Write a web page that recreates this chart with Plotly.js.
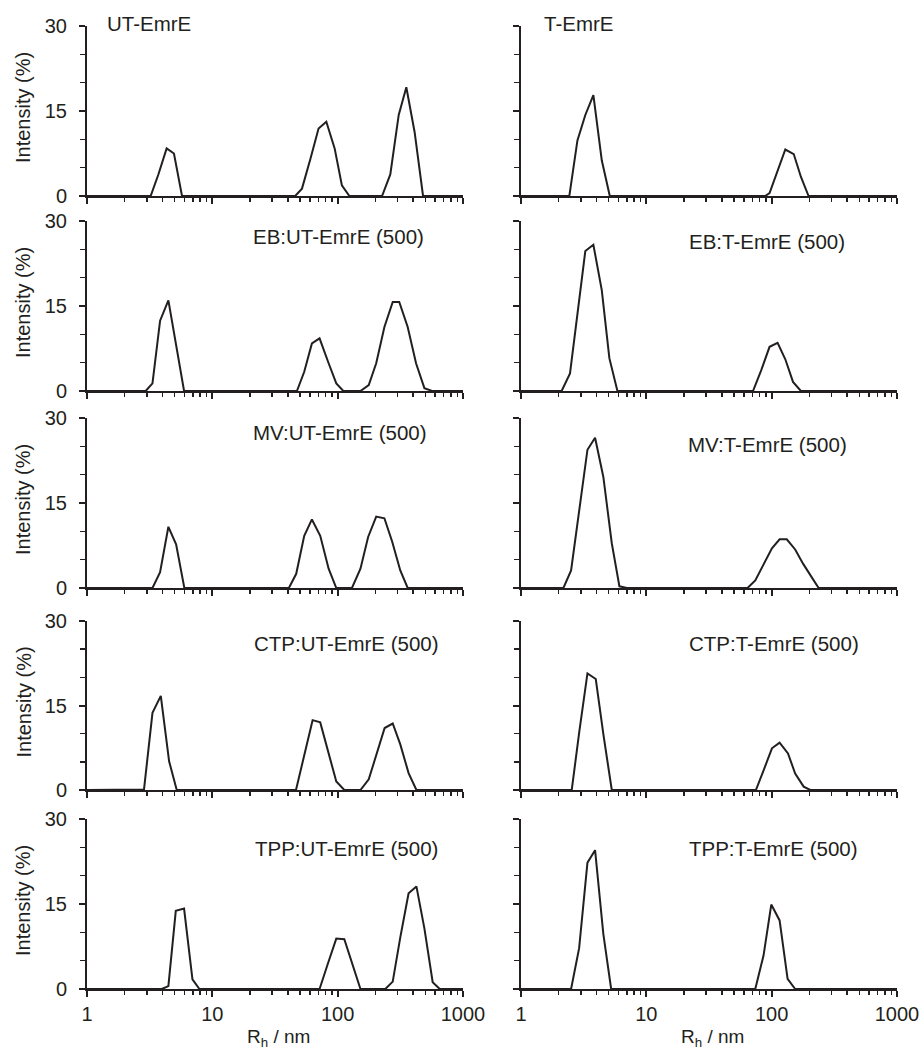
<!DOCTYPE html>
<html>
<head>
<meta charset="utf-8">
<script src="https://cdn.plot.ly/plotly-3.0.1.min.js"></script>
<style>html,body{margin:0;padding:0;background:#fff;}#chart{width:922px;height:1053px;}</style>
</head>
<body>
<div id="chart"></div>
<script>
// ---- Data (R_h in nm, intensity in %) ----
var panelTitles = ["UT-EmrE", "T-EmrE", "EB:UT-EmrE (500)", "EB:T-EmrE (500)", "MV:UT-EmrE (500)", "MV:T-EmrE (500)", "CTP:UT-EmrE (500)", "CTP:T-EmrE (500)", "TPP:UT-EmrE (500)", "TPP:T-EmrE (500)"];

var ut_x = [1, 3.22, 3.71, 4.32, 4.94, 5.73, 45.8, 51.9, 60.5, 70.4, 81.2, 94.6, 108, 124, 226, 263, 307, 353, 411, 480, 1000];
var ut_y = [0, 0, 3.8, 8.4, 7.5, 0, 0, 1.3, 6.5, 11.9, 13.1, 8.4, 1.9, 0, 0, 3.8, 14.3, 19.2, 11.3, 0, 0];

var t_x = [1, 2.43, 2.82, 3.26, 3.78, 4.41, 5.11, 88.9, 96.2, 111, 128.5, 150, 171, 197, 1000];
var t_y = [0, 0, 9.8, 14.3, 17.8, 6.3, 0, 0, 0.5, 4.4, 8.2, 7.4, 3.4, 0, 0];

var eb_ut_x = [1, 2.94, 3.33, 3.83, 4.46, 5.14, 5.95, 47.3, 54.1, 62.3, 71.7, 84.7, 97.5, 111, 152, 177, 203, 236, 275, 310, 362, 422, 492, 566, 1000];
var eb_ut_y = [0, 0, 1.35, 12.4, 16.0, 8.4, 0, 0, 3.4, 8.4, 9.3, 4.9, 1.35, 0, 0, 1.05, 4.9, 11.3, 15.7, 15.7, 11.3, 4.9, 0.5, 0, 0];

var eb_t_x = [1, 2.11, 2.46, 2.84, 3.26, 3.78, 4.41, 5.07, 5.88, 71, 82.6, 96.2, 111.5, 128.5, 148, 171, 1000];
var eb_t_y = [0, 0, 3.1, 13.9, 24.7, 25.8, 17.8, 5.8, 0, 0, 3.7, 7.8, 8.5, 5.6, 1.6, 0, 0];

var mv_ut_x = [1, 3.33, 3.83, 4.46, 5.14, 5.98, 40.8, 46.7, 54.1, 62.3, 72.6, 84.7, 97.5, 130, 152, 175, 203, 236, 272, 316, 362, 1000];
var mv_ut_y = [0, 0, 2.8, 10.8, 7.7, 0, 0, 2.5, 9.2, 12.1, 9.2, 3.4, 0, 0, 3.4, 9.0, 12.6, 12.3, 8.2, 3.1, 0, 0];

var mv_t_x = [1, 2.18, 2.51, 2.91, 3.39, 3.90, 4.54, 5.30, 6.10, 7.0, 64.2, 74, 86.1, 100.5, 115.7, 132, 154, 178, 206, 237, 1000];
var mv_t_y = [0, 0, 3.1, 13.8, 24.4, 26.5, 19.6, 7.9, 0.3, 0, 0, 1.35, 4.2, 7.0, 8.6, 8.6, 6.8, 4.3, 2.1, 0, 0];

var ctp_ut_x = [1, 2.85, 3.33, 3.88, 4.52, 5.20, 46.5, 54.1, 63.1, 72.6, 84.7, 97.5, 113, 152, 177, 206, 237, 275, 316, 368, 425, 1000];
var ctp_ut_y = [0, 0.1, 13.7, 16.7, 5.1, 0, 0, 6.3, 12.4, 12.0, 6.6, 1.5, 0, 0, 1.9, 6.6, 11.0, 11.8, 8.1, 3.0, 0, 0];

var ctp_t_x = [1, 2.54, 2.92, 3.39, 3.95, 4.54, 5.30, 74.9, 87.3, 100.5, 115.7, 135, 154, 180, 203, 1000];
var ctp_t_y = [0, 0, 10.4, 20.7, 19.7, 9.9, 0, 0, 3.8, 7.4, 8.4, 6.5, 2.9, 0.6, 0, 0];

var tpp_ut_x = [1, 3.95, 4.46, 5.11, 5.95, 6.94, 7.89, 71.7, 83.6, 97.5, 113, 131, 152, 240, 275, 316, 368, 425, 492, 573, 652, 1000];
var tpp_ut_y = [0, 0, 0.5, 13.8, 14.2, 1.7, 0, 0, 4.5, 8.9, 8.8, 4.4, 0, 0, 1.3, 9.1, 16.9, 18.1, 10.7, 1.2, 0, 0];

var tpp_t_x = [1, 2.51, 2.91, 3.39, 3.90, 4.54, 5.24, 74, 86.1, 99.3, 115.7, 134, 154, 1000];
var tpp_t_y = [0, 0, 7.2, 22.3, 24.5, 9.7, 0, 0, 5.9, 14.9, 12.1, 1.8, 0, 0];

var xMajorVals = [1, 10, 100, 1000];
var xMajorText = ["1", "10", "100", "1000"];
var xMinorVals = [2,3,4,5,6,7,8,9,20,30,40,50,60,70,80,90,200,300,400,500,600,700,800,900];
var yMajorVals = [0, 15, 30];
var yMajorText = ["0", "15", "30"];
var yMinorVals = [5, 10, 20, 25];

var seriesX = [ut_x, t_x, eb_ut_x, eb_t_x, mv_ut_x, mv_t_x, ctp_ut_x, ctp_t_x, tpp_ut_x, tpp_t_x];
var seriesY = [ut_y, t_y, eb_ut_y, eb_t_y, mv_ut_y, mv_t_y, ctp_ut_y, ctp_t_y, tpp_ut_y, tpp_t_y];

// ---- Layout geometry (pixels) ----
var W = 922, H = 1053;
function fx(p) { return p / W; }
function fy(p) { return 1 - p / H; }
var colX = [[87, 463], [521, 897]];
var rowY = [[26, 196], [221, 391], [418, 588], [621, 790], [819, 989]];
var labelPos = [[105, 24], [542, 24], [251, 237], [687, 241], [251, 432], [686, 445], [252, 643], [687, 643], [253, 848], [687, 848]];

var ink = "#231f20";
var FONT = "Arial, 'Liberation Sans', Helvetica, sans-serif";

var data = [];
var layout = {
  width: W, height: H, autosize: false,
  margin: {l: 0, r: 0, t: 0, b: 0},
  paper_bgcolor: "#fff", plot_bgcolor: "rgba(0,0,0,0)",
  showlegend: false,
  font: {family: FONT, size: 20, color: ink},
  annotations: []
};

for (var i = 0; i < 10; i++) {
  var r = Math.floor(i / 2), c = i % 2, n = i + 1;
  var xa = "xaxis" + (n === 1 ? "" : n), ya = "yaxis" + (n === 1 ? "" : n);
  var xid = "x" + (n === 1 ? "" : n), yid = "y" + (n === 1 ? "" : n);
  data.push({
    x: seriesX[i], y: seriesY[i], xaxis: xid, yaxis: yid,
    type: "scatter", mode: "lines",
    line: {color: ink, width: 2}, hoverinfo: "skip", cliponaxis: false
  });
  var bottom = (r === 4), left = (c === 0);
  var xaxisObj = {
    type: "log", range: [0, 3], domain: [fx(colX[c][0]), fx(colX[c][1])], anchor: yid,
    showline: true, linecolor: ink, linewidth: 2,
    showgrid: false, zeroline: false,
    ticks: "outside", ticklen: 6, tickwidth: 2, tickcolor: ink,
    tickmode: "array", tickvals: xMajorVals,
    showticklabels: bottom,
    tickfont: {family: FONT, size: 20, color: ink},
    minor: {tickmode: "array", tickvals: xMinorVals, ticks: "outside", ticklen: 4, tickwidth: 1.5, tickcolor: ink, showgrid: false},
    fixedrange: true
  };
  if (bottom) xaxisObj.ticktext = xMajorText;
  layout[xa] = xaxisObj;
  var yaxisObj = {
    range: [0, 30], domain: [fy(rowY[r][1]), fy(rowY[r][0])], anchor: xid,
    showline: true, linecolor: ink, linewidth: 2,
    showgrid: false, zeroline: false,
    ticks: "outside", ticklen: 6, tickwidth: 2, tickcolor: ink,
    tickmode: "array", tickvals: yMajorVals,
    showticklabels: left, ticklabelstandoff: 8,
    tickfont: {family: FONT, size: 20, color: ink},
    minor: {tickmode: "array", tickvals: yMinorVals, ticks: "outside", ticklen: 5, tickwidth: 1.5, tickcolor: ink, showgrid: false},
    fixedrange: true
  };
  if (left) yaxisObj.ticktext = yMajorText;
  layout[ya] = yaxisObj;
  layout.annotations.push({
    xref: "paper", yref: "paper", x: fx(labelPos[i][0]), y: fy(labelPos[i][1]),
    xanchor: "left", yanchor: "middle", showarrow: false,
    text: panelTitles[i], font: {family: FONT, size: 20.5, color: ink}
  });
  if (left) {
    layout.annotations.push({
      xref: "paper", yref: "paper", x: fx(23), y: fy((rowY[r][0] + rowY[r][1]) / 2 - 3),
      xanchor: "center", yanchor: "middle", showarrow: false, textangle: -90,
      text: "Intensity (%)", font: {family: FONT, size: 20, color: ink}
    });
  }
  if (bottom) {
    layout.annotations.push({
      xref: "paper", yref: "paper", x: fx((colX[c][0] + colX[c][1]) / 2 + 3), y: fy(1052),
      xanchor: "center", yanchor: "bottom", showarrow: false,
      text: "R<sub>h</sub> / nm", font: {family: FONT, size: 19, color: ink}
    });
  }
}

Plotly.newPlot("chart", data, layout, {staticPlot: true, displayModeBar: false});
</script>
</body>
</html>
